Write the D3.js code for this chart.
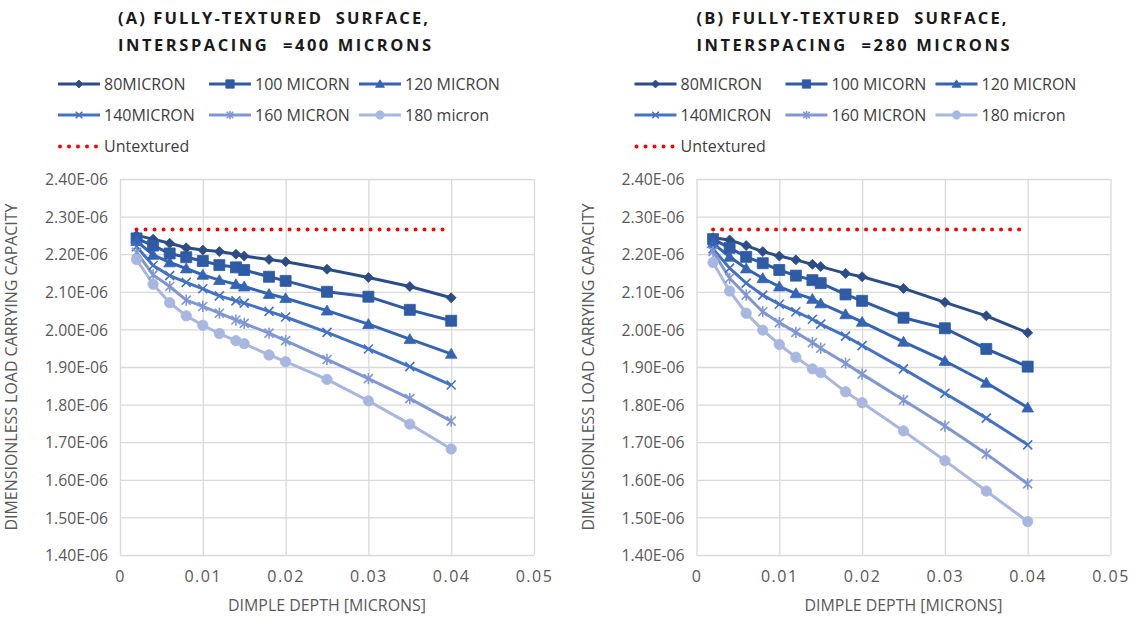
<!DOCTYPE html>
<html>
<head>
<meta charset="utf-8">
<script src="https://cdn.jsdelivr.net/npm/d3@7/dist/d3.min.js"></script>
<style>
  html, body { margin: 0; padding: 0; background: #fff; }
  svg { display: block; }
  text { font-family: "Open Sans", "Noto Sans", sans-serif; fill: #595959; }
</style>
</head>
<body>
<svg id="chart" width="1134" height="618"></svg>
<script>
// Dimple depth values (microns) shared by every series
const depth = [0.002, 0.004, 0.006, 0.008, 0.01, 0.012, 0.014, 0.015, 0.018, 0.02, 0.025, 0.03, 0.035, 0.04];

const seriesNames = ["80MICRON", "100 MICORN", "120 MICRON", "140MICRON", "160 MICRON", "180 micron"];
const untexturedName = "Untextured";

const titleA = ["(A) FULLY-TEXTURED  SURFACE,", "INTERSPACING  =400 MICRONS"];
const titleB = ["(B) FULLY-TEXTURED  SURFACE,", "INTERSPACING  =280 MICRONS"];
const xAxisTitle = "DIMPLE DEPTH [MICRONS]";
const yAxisTitle = "DIMENSIONLESS LOAD CARRYING CAPACITY";

const xTicks = [0, 0.01, 0.02, 0.03, 0.04, 0.05];
const yTicks = [1.4e-6, 1.5e-6, 1.6e-6, 1.7e-6, 1.8e-6, 1.9e-6, 2.0e-6, 2.1e-6, 2.2e-6, 2.3e-6, 2.4e-6];

// Panel A: interspacing 400 microns
const loadA80  = [2.250e-6, 2.240e-6, 2.229e-6, 2.217e-6, 2.211e-6, 2.207e-6, 2.200e-6, 2.195e-6, 2.186e-6, 2.180e-6, 2.160e-6, 2.138e-6, 2.114e-6, 2.084e-6];
const loadA100 = [2.242e-6, 2.223e-6, 2.202e-6, 2.192e-6, 2.182e-6, 2.171e-6, 2.165e-6, 2.158e-6, 2.140e-6, 2.129e-6, 2.100e-6, 2.087e-6, 2.052e-6, 2.023e-6];
const loadA120 = [2.235e-6, 2.198e-6, 2.178e-6, 2.162e-6, 2.145e-6, 2.131e-6, 2.120e-6, 2.114e-6, 2.094e-6, 2.083e-6, 2.050e-6, 2.014e-6, 1.974e-6, 1.935e-6];
const loadA140 = [2.220e-6, 2.170e-6, 2.143e-6, 2.125e-6, 2.108e-6, 2.089e-6, 2.076e-6, 2.070e-6, 2.048e-6, 2.033e-6, 1.992e-6, 1.948e-6, 1.901e-6, 1.852e-6];
const loadA160 = [2.205e-6, 2.145e-6, 2.114e-6, 2.078e-6, 2.061e-6, 2.043e-6, 2.025e-6, 2.016e-6, 1.990e-6, 1.970e-6, 1.920e-6, 1.869e-6, 1.816e-6, 1.756e-6];
const loadA180 = [2.186e-6, 2.120e-6, 2.071e-6, 2.036e-6, 2.011e-6, 1.989e-6, 1.970e-6, 1.962e-6, 1.932e-6, 1.914e-6, 1.867e-6, 1.810e-6, 1.748e-6, 1.682e-6];
const untexturedA = [2.266e-6, 2.266e-6, 2.266e-6, 2.266e-6, 2.266e-6, 2.266e-6, 2.266e-6, 2.266e-6, 2.266e-6, 2.266e-6, 2.266e-6, 2.266e-6, 2.266e-6, 2.266e-6];

// Panel B: interspacing 280 microns
const loadB80  = [2.244e-6, 2.238e-6, 2.223e-6, 2.207e-6, 2.195e-6, 2.185e-6, 2.173e-6, 2.167e-6, 2.149e-6, 2.140e-6, 2.109e-6, 2.072e-6, 2.036e-6, 1.991e-6];
const loadB100 = [2.240e-6, 2.217e-6, 2.193e-6, 2.176e-6, 2.158e-6, 2.143e-6, 2.131e-6, 2.123e-6, 2.093e-6, 2.076e-6, 2.031e-6, 2.003e-6, 1.948e-6, 1.901e-6];
const loadB120 = [2.229e-6, 2.193e-6, 2.162e-6, 2.136e-6, 2.114e-6, 2.096e-6, 2.081e-6, 2.069e-6, 2.040e-6, 2.020e-6, 1.967e-6, 1.916e-6, 1.858e-6, 1.792e-6];
const loadB140 = [2.214e-6, 2.163e-6, 2.123e-6, 2.091e-6, 2.067e-6, 2.047e-6, 2.027e-6, 2.014e-6, 1.982e-6, 1.957e-6, 1.895e-6, 1.830e-6, 1.764e-6, 1.693e-6];
const loadB160 = [2.207e-6, 2.136e-6, 2.091e-6, 2.047e-6, 2.018e-6, 1.992e-6, 1.965e-6, 1.950e-6, 1.910e-6, 1.881e-6, 1.812e-6, 1.743e-6, 1.669e-6, 1.589e-6];
const loadB180 = [2.178e-6, 2.102e-6, 2.043e-6, 1.998e-6, 1.960e-6, 1.926e-6, 1.895e-6, 1.885e-6, 1.834e-6, 1.805e-6, 1.730e-6, 1.651e-6, 1.570e-6, 1.489e-6];
const untexturedB = [2.266e-6, 2.266e-6, 2.266e-6, 2.266e-6, 2.266e-6, 2.266e-6, 2.266e-6, 2.266e-6, 2.266e-6, 2.266e-6, 2.266e-6, 2.266e-6, 2.266e-6, 2.266e-6];

// Styling per series
const seriesColors = ["#2C4C87", "#2F5AA4", "#3564B6", "#4472C4", "#7F97D3", "#A8B7DF"];
const seriesMarkers = ["diamond", "square", "triangle", "cross", "star", "circle"];
const untexturedColor = "#FF0000";

// Marker path builders (centered at 0,0)
function markerPath(kind, r) {
  switch (kind) {
    case "diamond": return `M0,${-r}L${r},0L0,${r}L${-r},0Z`;
    case "square": return `M${-r},${-r}H${r}V${r}H${-r}Z`;
    case "triangle": return `M0,${-r}L${r * 1.05},${r * 0.8}L${-r * 1.05},${r * 0.8}Z`;
    case "circle": return d3.arc()({innerRadius: 0, outerRadius: r, startAngle: 0, endAngle: 2 * Math.PI});
    case "cross": return `M${-r},${-r}L${r},${r}M${r},${-r}L${-r},${r}`;
    case "star": return `M${-r},${-r}L${r},${r}M${r},${-r}L${-r},${r}M0,${-r * 1.25}V${r * 1.25}`;
  }
}
const strokeOnly = k => k === "cross" || k === "star";

function drawMarker(g, kind, color, r) {
  return g.append("path")
    .attr("d", markerPath(kind, r))
    .attr("fill", strokeOnly(kind) ? "none" : color)
    .attr("stroke", color)
    .attr("stroke-width", strokeOnly(kind) ? 1.6 : 0.8);
}

const svg = d3.select("#chart");

function drawPanel(cfg) {
  const g = svg.append("g").attr("transform", `translate(${cfg.dx},0)`);
  const x0 = 120, x1 = 534, yTop = 179, yBot = 555;

  const x = d3.scaleLinear().domain([0, 0.05]).range([x0, x1]);
  const y = d3.scaleLinear().domain([1.4e-6, 2.4e-6]).range([yBot, yTop]);

  // Title
  cfg.title.forEach((t, i) => {
    g.append("text")
      .attr("x", cfg.titleX)
      .attr("y", 24 + i * 26.5)
      .attr("textLength", cfg.titleLen[i])
      .attr("lengthAdjust", "spacing")
      .style("font-size", "16.5px")
      .style("font-weight", "bold")
      .style("fill", "#1a1a1a")
      .style("white-space", "pre")
      .text(t);
  });

  // Gridlines
  g.append("g")
    .attr("transform", `translate(0,${yBot})`)
    .call(d3.axisBottom(x).tickValues(xTicks).tickSize(-(yBot - yTop)).tickFormat(""))
    .call(a => a.select(".domain").remove())
    .call(a => a.selectAll("line").attr("stroke", "#D9D9D9").attr("stroke-width", 1.3));
  g.append("g")
    .attr("transform", `translate(${x0},0)`)
    .call(d3.axisLeft(y).tickValues(yTicks).tickSize(-(x1 - x0)).tickFormat(""))
    .call(a => a.select(".domain").remove())
    .call(a => a.selectAll("line").attr("stroke", "#D9D9D9").attr("stroke-width", 1.3));

  // Axis labels
  const yFmt = v => (v * 1e6).toFixed(2) + "E-06";
  g.append("g")
    .attr("transform", `translate(${x0 - 12},0)`)
    .call(d3.axisLeft(y).tickValues(yTicks).tickSize(0).tickFormat(yFmt))
    .call(a => a.select(".domain").remove())
    .call(a => a.selectAll("text")
      .attr("dy", "0.35em").attr("x", 0)
      .attr("textLength", 63).attr("lengthAdjust", "spacingAndGlyphs")
      .style("font-size", "16px").style("fill", "#595959")
      .style("font-family", "'Open Sans', sans-serif"));

  const xFmt = v => v === 0 ? "0" : String(v);
  g.append("g")
    .attr("transform", `translate(0,${yBot + 16})`)
    .call(d3.axisBottom(x).tickValues(xTicks).tickSize(0).tickFormat(xFmt))
    .call(a => a.select(".domain").remove())
    .call(a => a.selectAll("text")
      .attr("dy", "0.71em").attr("y", 0)
      .style("font-size", "16px").style("fill", "#595959")
      .style("letter-spacing", "1.5px")
      .style("font-family", "'Open Sans', sans-serif"));

  g.append("text")
    .attr("x", (x0 + x1) / 2).attr("y", 611)
    .attr("text-anchor", "middle")
    .attr("textLength", 198).attr("lengthAdjust", "spacingAndGlyphs")
    .style("font-size", "15.5px")
    .text(xAxisTitle);

  g.append("text")
    .attr("transform", `translate(${cfg.yTitleX},${(yTop + yBot) / 2}) rotate(-90)`)
    .attr("text-anchor", "middle")
    .attr("textLength", 327).attr("lengthAdjust", "spacingAndGlyphs")
    .style("font-size", "15.5px")
    .text(yAxisTitle);

  // Untextured reference (dotted red)
  const line = d3.line().x((d, i) => x(depth[i])).y(d => y(d));
  g.append("path")
    .attr("d", line(cfg.untextured))
    .attr("fill", "none")
    .attr("stroke", untexturedColor)
    .attr("stroke-width", 4)
    .attr("stroke-linecap", "round")
    .attr("stroke-dasharray", "0 9");

  // Series lines + markers
  cfg.series.forEach((vals, si) => {
    const color = seriesColors[si];
    g.append("path")
      .attr("d", line(vals))
      .attr("fill", "none")
      .attr("stroke", color)
      .attr("stroke-width", 3)
      .attr("stroke-linejoin", "round");
  });
  cfg.series.forEach((vals, si) => {
    const color = seriesColors[si];
    const kind = seriesMarkers[si];
    const r = {diamond: 5, square: 5.5, triangle: 5.5, cross: 4.5, star: 4.5, circle: 5.2}[kind];
    vals.forEach((v, i) => {
      drawMarker(g, kind, color, r)
        .attr("transform", `translate(${x(depth[i])},${y(v)})`);
    });
  });

  // Legend
  const legX = 58, colW = [0, 151, 301], rowY = [84, 115, 146.5];
  const items = seriesNames.map((n, i) => ({name: n, color: seriesColors[i], kind: seriesMarkers[i]}));
  items.forEach((it, i) => {
    const lx = legX + colW[i % 3], ly = rowY[Math.floor(i / 3)];
    const lg = g.append("g");
    lg.append("line")
      .attr("x1", lx).attr("x2", lx + 42).attr("y1", ly).attr("y2", ly)
      .attr("stroke", it.color).attr("stroke-width", 3);
    const r = {diamond: 4, square: 4.2, triangle: 4.2, cross: 3.3, star: 3.3, circle: 4.2}[it.kind];
    drawMarker(lg, it.kind, it.color, r).attr("transform", `translate(${lx + 21},${ly})`);
    lg.append("text")
      .attr("x", lx + 46).attr("y", ly).attr("dy", "0.35em")
      .style("font-size", "16px").style("fill", "#404040")
      .text(it.name);
  });
  const ux = legX, uy = rowY[2];
  g.append("line")
    .attr("x1", ux + 2).attr("x2", ux + 40).attr("y1", uy).attr("y2", uy)
    .attr("stroke", untexturedColor).attr("stroke-width", 4)
    .attr("stroke-linecap", "round").attr("stroke-dasharray", "0 9");
  g.append("text")
    .attr("x", ux + 46).attr("y", uy).attr("dy", "0.35em")
    .style("font-size", "16px").style("fill", "#404040")
    .text(untexturedName);
}

drawPanel({
  dx: 0,
  title: titleA, titleX: 118, titleLen: [310, 313],
  yTitleX: 17,
  series: [loadA80, loadA100, loadA120, loadA140, loadA160, loadA180],
  untextured: untexturedA
});
drawPanel({
  dx: 576.5,
  title: titleB, titleX: 120, titleLen: [310, 313],
  yTitleX: 17,
  series: [loadB80, loadB100, loadB120, loadB140, loadB160, loadB180],
  untextured: untexturedB
});
</script>
</body>
</html>
